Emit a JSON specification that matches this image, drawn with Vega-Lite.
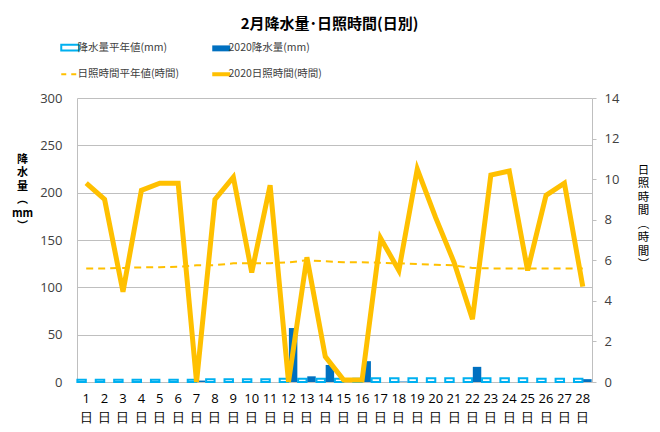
{
  "$schema": "https://vega.github.io/schema/vega-lite/v6.json",
  "width": 515,
  "height": 284,
  "autosize": {"type": "none"},
  "padding": {"left": 77, "top": 98, "right": 68, "bottom": 50},
  "background": "white",
  "title": {
    "text": "2月降水量･日照時間(日別)",
    "font": "Noto Sans CJK JP",
    "fontSize": 15,
    "fontWeight": "bold",
    "color": "#000000",
    "anchor": "middle",
    "frame": "group",
    "dx": -5,
    "offset": 10
  },
  "config": {
    "view": {"stroke": null},
    "axis": {"labelFont": "Open Sans", "labelColor": "#404040", "titleColor": "#000000"}
  },
  "data": {
    "values": [
      {"day": 1, "rain_avg": 2.5, "rain_2020": 0, "sun_avg": 5.6, "sun_2020": 9.8},
      {"day": 2, "rain_avg": 2.5, "rain_2020": 0, "sun_avg": 5.6, "sun_2020": 9.0},
      {"day": 3, "rain_avg": 2.5, "rain_2020": 0, "sun_avg": 5.62, "sun_2020": 4.45},
      {"day": 4, "rain_avg": 2.5, "rain_2020": 0, "sun_avg": 5.65, "sun_2020": 9.45},
      {"day": 5, "rain_avg": 2.5, "rain_2020": 0, "sun_avg": 5.66, "sun_2020": 9.8},
      {"day": 6, "rain_avg": 2.5, "rain_2020": 0, "sun_avg": 5.68, "sun_2020": 9.8},
      {"day": 7, "rain_avg": 2.5, "rain_2020": 1.5, "sun_avg": 5.75, "sun_2020": 0},
      {"day": 8, "rain_avg": 3, "rain_2020": 0, "sun_avg": 5.76, "sun_2020": 9.0},
      {"day": 9, "rain_avg": 3, "rain_2020": 0, "sun_avg": 5.85, "sun_2020": 10.1},
      {"day": 10, "rain_avg": 3, "rain_2020": 0, "sun_avg": 5.86, "sun_2020": 5.4},
      {"day": 11, "rain_avg": 3, "rain_2020": 0, "sun_avg": 5.86, "sun_2020": 9.7},
      {"day": 12, "rain_avg": 3.5, "rain_2020": 57, "sun_avg": 5.9, "sun_2020": 0},
      {"day": 13, "rain_avg": 3.5, "rain_2020": 6, "sun_avg": 6.0, "sun_2020": 6.15},
      {"day": 14, "rain_avg": 3.5, "rain_2020": 18, "sun_avg": 5.95, "sun_2020": 1.25},
      {"day": 15, "rain_avg": 3.5, "rain_2020": 0, "sun_avg": 5.9, "sun_2020": 0.1},
      {"day": 16, "rain_avg": 3.5, "rain_2020": 22, "sun_avg": 5.9, "sun_2020": 0.1},
      {"day": 17, "rain_avg": 4, "rain_2020": 0, "sun_avg": 5.88, "sun_2020": 7.1},
      {"day": 18, "rain_avg": 4, "rain_2020": 0.5, "sun_avg": 5.85, "sun_2020": 5.5},
      {"day": 19, "rain_avg": 4, "rain_2020": 0, "sun_avg": 5.82, "sun_2020": 10.5},
      {"day": 20, "rain_avg": 4, "rain_2020": 0, "sun_avg": 5.78, "sun_2020": 8.1},
      {"day": 21, "rain_avg": 4, "rain_2020": 0, "sun_avg": 5.75, "sun_2020": 5.9},
      {"day": 22, "rain_avg": 4, "rain_2020": 16, "sun_avg": 5.62, "sun_2020": 3.1},
      {"day": 23, "rain_avg": 4, "rain_2020": 0, "sun_avg": 5.6, "sun_2020": 10.2},
      {"day": 24, "rain_avg": 4, "rain_2020": 0, "sun_avg": 5.6, "sun_2020": 10.4},
      {"day": 25, "rain_avg": 4, "rain_2020": 0, "sun_avg": 5.6, "sun_2020": 5.5},
      {"day": 26, "rain_avg": 3.5, "rain_2020": 0, "sun_avg": 5.6, "sun_2020": 9.2},
      {"day": 27, "rain_avg": 3.5, "rain_2020": 0, "sun_avg": 5.6, "sun_2020": 9.8},
      {"day": 28, "rain_avg": 3.5, "rain_2020": 3, "sun_avg": 5.6, "sun_2020": 4.7}
    ]
  },
  "encoding": {
    "x": {
      "field": "day",
      "type": "ordinal",
      "scale": {"paddingInner": 0.04, "paddingOuter": 0.02},
      "axis": {
        "title": null,
        "labelAngle": 0,
        "ticks": false,
        "domainColor": "#BFBFBF",
        "labelFontSize": 13,
        "labelPadding": 10,
        "labelLineHeight": 19,
        "labelColor": "#000000",
        "labelExpr": "[datum.label, '日']"
      }
    }
  },
  "layer": [
    {
      "transform": [{"fold": ["rain_avg", "rain_2020"], "as": ["key", "value"]}],
      "mark": {"type": "bar"},
      "encoding": {
        "xOffset": {"field": "key", "type": "nominal", "sort": ["rain_avg", "rain_2020"], "scale": {"paddingInner": 0.08}},
        "y": {
          "field": "value",
          "type": "quantitative",
          "scale": {"domain": [0, 300]},
          "axis": {
            "values": [0, 50, 100, 150, 200, 250, 300],
            "grid": true,
            "gridColor": "#BFBFBF",
            "ticks": false,
            "domainColor": "#BFBFBF",
            "labelFontSize": 13,
            "labelPadding": 15,
            "title": ["降", "水", "量", "︵", "mm", "︶"],
            "titleFont": "Noto Sans CJK JP",
            "titleFontSize": 11,
            "titleFontWeight": "bold",
            "titleAngle": 0,
            "titleAlign": "center",
            "titleBaseline": "top",
            "titleLineHeight": 13.5,
            "titleX": -55,
            "titleY": 55
          }
        },
        "fill": {"condition": {"test": "datum.key == 'rain_avg'", "value": "#FFFFFF"}, "value": "#0070C0"},
        "stroke": {"condition": {"test": "datum.key == 'rain_avg'", "value": "#00B0F0"}, "value": "#0070C0"},
        "strokeWidth": {"condition": {"test": "datum.key == 'rain_avg'", "value": 2}, "value": 0}
      }
    },
    {
      "layer": [
        {
          "mark": {"type": "line", "strokeWidth": 2, "strokeDash": [7, 5]},
          "encoding": {
            "y": {"field": "sun_avg", "type": "quantitative"},
            "color": {"datum": "日照時間平年値(時間)"}
          }
        },
        {
          "mark": {"type": "line", "strokeWidth": 5},
          "encoding": {
            "y": {
              "field": "sun_2020",
              "type": "quantitative",
              "scale": {"domain": [0, 14]},
              "axis": {
                "orient": "right",
                "values": [0, 2, 4, 6, 8, 10, 12, 14],
                "grid": false,
                "ticks": true,
                "tickSize": 4,
                "tickColor": "#BFBFBF",
                "domainColor": "#BFBFBF",
                "labelFontSize": 13,
                "labelPadding": 8,
                "title": ["日", "照", "時", "間", "︵", "時", "間", "︶"],
                "titleFont": "Noto Sans CJK JP",
                "titleFontSize": 11.5,
                "titleFontWeight": "normal",
                "titleAngle": 0,
                "titleAlign": "center",
                "titleBaseline": "top",
                "titleLineHeight": 13.5,
                "titleX": 51,
                "titleY": 66
              }
            },
            "color": {
              "datum": "2020日照時間(時間)",
              "scale": {
                "domain": ["降水量平年値(mm)", "日照時間平年値(時間)", "2020降水量(mm)", "2020日照時間(時間)"],
                "range": ["#00B0F0", "#FFC000", "#0070C0", "#FFC000"]
              },
              "legend": {
                "orient": "none",
                "legendX": -12,
                "legendY": -56,
                "columns": 2,
                "columnPadding": 24,
                "rowPadding": 11,
                "title": null,
                "labelFont": "Noto Sans CJK JP",
                "labelFontSize": 10.5,
                "labelColor": "#404040",
                "labelOffset": 2,
                "symbolSize": 324,
                "encode": {
                  "symbols": {
                    "update": {
                      "shape": {"signal": "datum.value == '降水量平年値(mm)' || datum.value == '2020降水量(mm)' ? 'M-1,-0.33H1V0.33H-1Z' : 'stroke'"},
                      "fill": {"signal": "datum.value == '降水量平年値(mm)' ? '#FFFFFF' : datum.value == '2020降水量(mm)' ? '#0070C0' : 'transparent'"},
                      "stroke": {"signal": "datum.value == '降水量平年値(mm)' ? '#00B0F0' : datum.value == '2020降水量(mm)' ? '#0070C0' : '#FFC000'"},
                      "strokeWidth": {"signal": "datum.value == '降水量平年値(mm)' ? 2 : datum.value == '2020降水量(mm)' ? 0 : datum.value == '2020日照時間(時間)' ? 4 : 2"},
                      "strokeDash": {"signal": "datum.value == '日照時間平年値(時間)' ? [5, 5] : [1, 0]"},
                      "opacity": {"value": 1}
                    }
                  }
                }
              }
            }
          }
        }
      ]
    }
  ],
  "resolve": {"scale": {"y": "independent"}}
}
